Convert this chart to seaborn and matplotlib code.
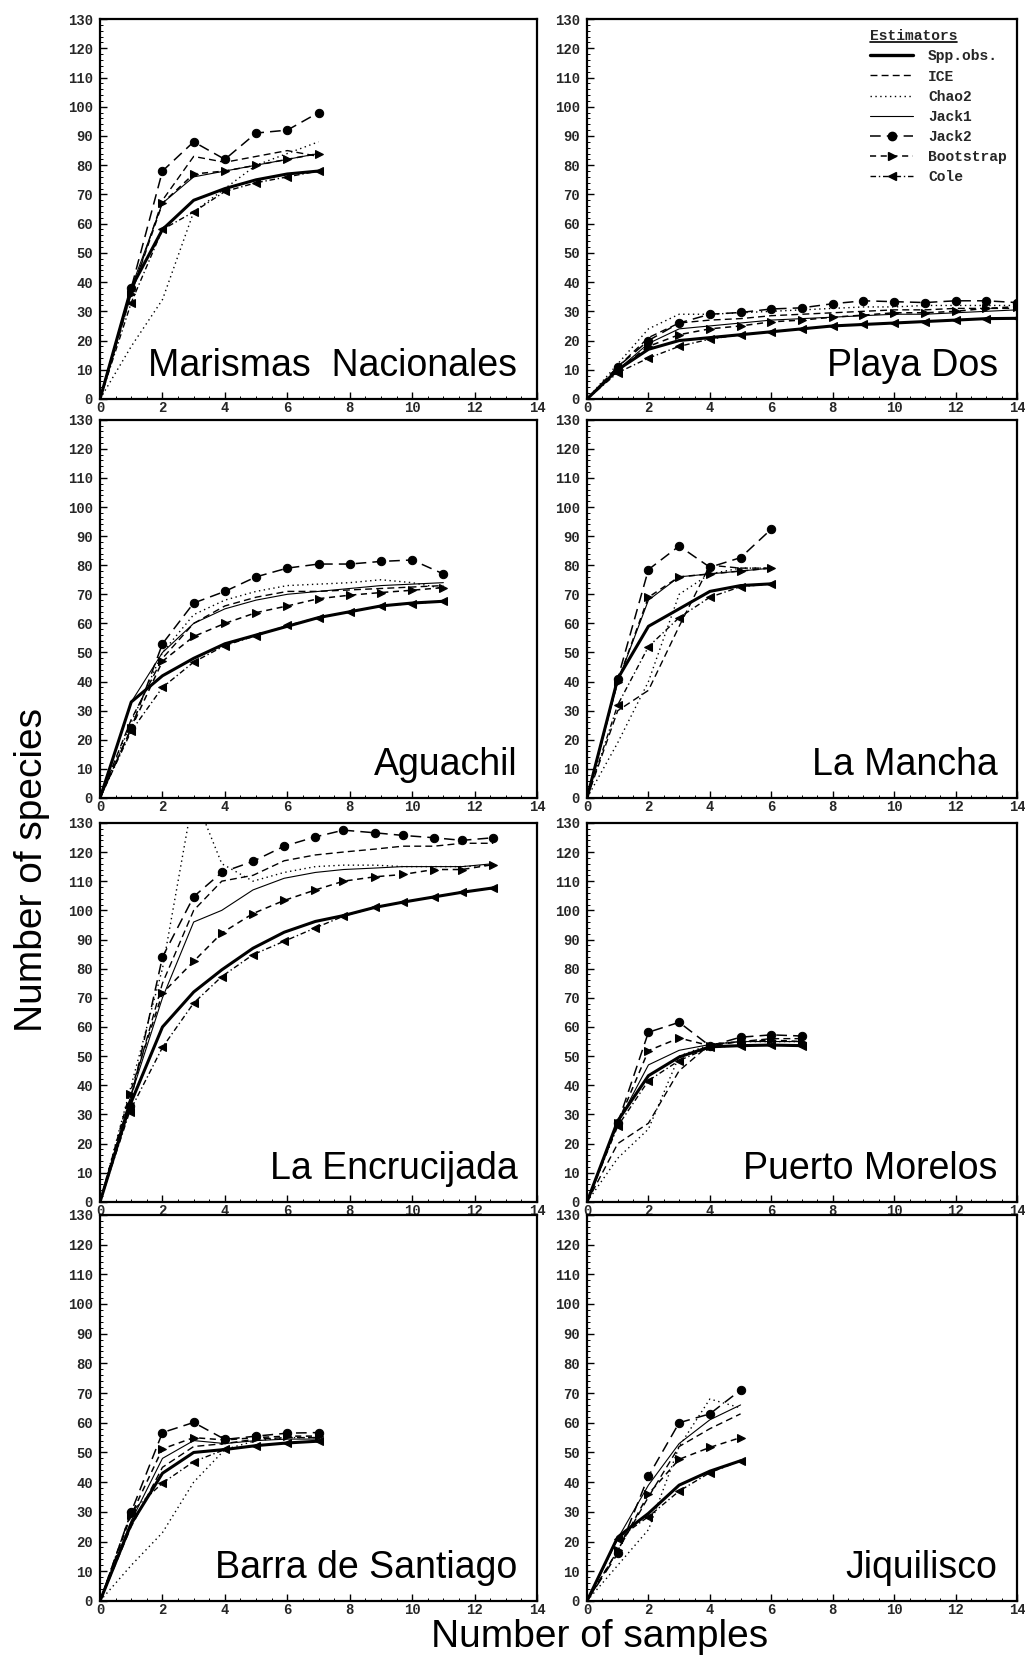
import numpy as np
import pandas as pd
import matplotlib
matplotlib.use("Agg")
import matplotlib.pyplot as plt
import matplotlib.transforms as mtransforms
import seaborn as sns
from matplotlib.ticker import MultipleLocator
from matplotlib.lines import Line2D
from matplotlib.legend_handler import HandlerLine2D

# ---------------- data ----------------
estimators = ["Spp.obs.", "ICE", "Chao2", "Jack1", "Jack2", "Bootstrap", "Cole"]
sites = ["Marismas  Nacionales", "Playa Dos", "Aguachil", "La Mancha",
         "La Encrucijada", "Puerto Morelos", "Barra de Santiago", "Jiquilisco"]

# Marismas Nacionales
mn_x = [0, 1, 2, 3, 4, 5, 6, 7]
mn_spp = [0, 38, 58, 68, 72, 75, 77, 78]
mn_ice = [0, 36, 68, 83, 81, 83, 85, 83]
mn_chao2 = [0, 18, 34, 64, 72, 80, 84, 88]
mn_jack1 = [0, 38, 67, 76, 78, 80, 82, 84]
mn_jack2 = [0, 38, 78, 88, 82, 91, 92, 98]
mn_boot = [0, 36, 67, 77, 78, 80, 82, 84]
mn_cole = [0, 33, 58, 64, 71, 74, 76, 78]

# Playa Dos
pd_x = [0, 1, 2, 3, 4, 5, 6, 7, 8, 9, 10, 11, 12, 13, 14]
pd_spp = [0, 10, 17, 20, 21, 22, 23, 24, 25, 25.5, 26, 26.5, 27, 27.5, 27.6]
pd_ice = [0, 11, 21, 26, 27, 27.5, 28.5, 29, 29.5, 30, 30.5, 30.5, 31, 31, 31]
pd_chao2 = [0, 12, 24, 29, 29, 29.5, 30, 30.5, 31, 31.5, 31.5, 32, 32, 32, 32]
pd_jack1 = [0, 10, 19, 24, 25, 26, 27, 27.5, 28, 28.5, 29, 29, 29.5, 30, 30.5]
pd_jack2 = [0, 11, 20, 26, 29, 29.6, 30.8, 31.2, 32.6, 33.6, 33.3, 33, 33.6, 33.6, 33]
pd_boot = [0, 10, 18, 22, 24, 25, 26.4, 27, 28, 28.7, 29.5, 29.5, 30, 31, 31.6]
pd_cole = [0, 9, 14, 18, 20.5, 22, 23, 24, 25, 25.5, 26, 26.5, 27, 27.5, 27.6]

# Aguachil
ag_x = [0, 1, 2, 3, 4, 5, 6, 7, 8, 9, 10, 11]
ag_spp = [0, 33, 42, 48, 53, 56, 59, 62, 64, 66, 67, 67.6]
ag_ice = [0, 27, 48, 60, 66, 69, 71, 71, 71.5, 72, 72.5, 73]
ag_chao2 = [0, 26, 50, 63, 68, 71, 73, 73.5, 74, 75, 74, 72]
ag_jack1 = [0, 33, 50, 60, 65, 68, 70, 71, 72, 73, 73.5, 74]
ag_jack2 = [0, 24, 53, 67, 71, 76, 79, 80.4, 80.4, 81.3, 81.8, 77]
ag_boot = [0, 24, 47, 55.5, 60, 63.7, 66, 68.5, 69.7, 70.6, 71.4, 72.3]
ag_cole = [0, 23, 38, 46.7, 52.4, 55.8, 59.3, 62, 64, 66, 66.8, 67.6]

# La Mancha
lm_x = [0, 1, 2, 3, 4, 5, 6]
lm_spp = [0, 41, 59, 65, 71, 73, 73.6]
lm_ice = [0, 30, 37, 59, 80, 79, 79]
lm_chao2 = [0, 19, 40, 70, 77, 79, 79]
lm_jack1 = [0, 40, 68, 76, 77, 78, 79]
lm_jack2 = [0, 41, 78.5, 86.6, 79.3, 82.6, 92.4]
lm_boot = [0, 40, 69, 76, 77, 78, 79]
lm_cole = [0, 32, 52, 62, 69, 72.6, 73.6]

# La Encrucijada
le_x = [0, 0.95, 2, 3, 3.9, 4.9, 5.9, 6.9, 7.8, 8.8, 9.7, 10.7, 11.6, 12.6]
le_spp = [0, 33, 60, 72, 79.6, 87, 92.5, 96.2, 98.2, 101, 102.8, 104.6, 106.2, 107.7]
le_ice = [0, 35, 75, 100, 110, 112, 117, 119, 120, 121, 122, 122, 123, 123]
le_chao2 = [0, 38, 80, 140, 116, 110, 113, 115, 115.5, 115.5, 115, 115, 115, 115.5]
le_jack1 = [0, 35, 70, 96, 100, 107, 111, 113, 114, 114.5, 115, 115, 115, 116]
le_jack2 = [0, 33, 84, 104.7, 113, 116.8, 122, 125.2, 127.5, 126.6, 125.7, 124.9, 124, 124.9]
le_boot = [0, 37, 71.6, 82.5, 92.2, 98.9, 103.4, 107, 110, 111.5, 112.3, 114, 114, 115.7]
le_cole = [0, 31, 53, 68.2, 77.3, 84.8, 89.4, 94, 98, 101, 102.8, 104.6, 106.2, 107.7]

# Puerto Morelos
pm_x = [0, 1, 2, 3, 4, 5, 6, 7]
pm_spp = [0, 27.8, 43.3, 49.7, 53.2, 53.6, 53.8, 53.6]
pm_ice = [0, 20, 27, 45, 54, 55, 56, 56]
pm_chao2 = [0, 15, 25, 50, 54, 55, 55, 55]
pm_jack1 = [0, 27, 47, 52, 54, 55, 55, 55]
pm_jack2 = [0, 27, 58.2, 61.6, 53.5, 56.5, 57.3, 56.9]
pm_boot = [0, 27, 51.9, 56.2, 53.6, 55, 55.5, 55]
pm_cole = [0, 26, 41.6, 48.5, 53, 53.6, 53.8, 53.6]

# Barra de Santiago
bs_x = [0, 1, 2, 3, 4, 5, 6, 7]
bs_spp = [0, 26, 43, 50, 51, 52.3, 53.2, 53.8]
bs_ice = [0, 25, 45, 52, 53, 54.5, 55, 55]
bs_chao2 = [0, 12, 23, 40, 51, 54, 55, 55]
bs_jack1 = [0, 27, 48, 54, 53, 54, 54.5, 54.5]
bs_jack2 = [0, 30, 56.7, 60.1, 54.4, 55.5, 56.5, 56.7]
bs_boot = [0, 29, 51.2, 55, 54.2, 55, 55.5, 55.5]
bs_cole = [0, 30, 39.7, 46.9, 51, 52.3, 53.2, 53.8]

# Jiquilisco
jq_x = [0, 1, 2, 3, 4, 5]
jq_spp = [0, 21.5, 29.5, 39, 43.7, 47.2]
jq_ice = [0, 17, 35, 52, 58, 63]
jq_chao2 = [0, 12, 24, 52, 68, 65]
jq_jack1 = [0, 21, 39, 53, 61, 66]
jq_jack2 = [0, 16, 42, 60, 63, 71]
jq_boot = [0, 17, 36, 47.7, 51.7, 55]
jq_cole = [0, 21, 28.4, 37, 43.2, 47.2]

x_ticks = [0, 2, 4, 6, 8, 10, 12, 14]
y_ticks = [0, 10, 20, 30, 40, 50, 60, 70, 80, 90, 100, 110, 120, 130]

site_data = {
    "Marismas  Nacionales": (mn_x, [mn_spp, mn_ice, mn_chao2, mn_jack1, mn_jack2, mn_boot, mn_cole]),
    "Playa Dos": (pd_x, [pd_spp, pd_ice, pd_chao2, pd_jack1, pd_jack2, pd_boot, pd_cole]),
    "Aguachil": (ag_x, [ag_spp, ag_ice, ag_chao2, ag_jack1, ag_jack2, ag_boot, ag_cole]),
    "La Mancha": (lm_x, [lm_spp, lm_ice, lm_chao2, lm_jack1, lm_jack2, lm_boot, lm_cole]),
    "La Encrucijada": (le_x, [le_spp, le_ice, le_chao2, le_jack1, le_jack2, le_boot, le_cole]),
    "Puerto Morelos": (pm_x, [pm_spp, pm_ice, pm_chao2, pm_jack1, pm_jack2, pm_boot, pm_cole]),
    "Barra de Santiago": (bs_x, [bs_spp, bs_ice, bs_chao2, bs_jack1, bs_jack2, bs_boot, bs_cole]),
    "Jiquilisco": (jq_x, [jq_spp, jq_ice, jq_chao2, jq_jack1, jq_jack2, jq_boot, jq_cole]),
}

# ---------------- styles ----------------
styles = {
    "Spp.obs.": dict(linestyle="-", lw=2.2, marker=None),
    "ICE": dict(linestyle=(0, (5, 3)), lw=1.0, marker=None),
    "Chao2": dict(linestyle=(0, (1, 2.5)), lw=1.0, marker=None),
    "Jack1": dict(linestyle="-", lw=0.8, marker=None),
    "Jack2": dict(linestyle=(0, (7, 4)), lw=1.1, marker="o"),
    "Bootstrap": dict(linestyle=(0, (4, 3)), lw=1.1, marker=">"),
    "Cole": dict(linestyle=(0, (4, 2, 1, 2)), lw=1.0, marker="<"),
}


class EndMarkerHandler(HandlerLine2D):
    """Legend line with its marker at the right end, as in the original key."""
    def get_xdata(self, legend, xdescent, ydescent, width, height, fontsize):
        xdata = np.array([-xdescent, -xdescent + width])
        return xdata, np.array([-xdescent + width - 2])


sns.set_theme(style="white")
plt.rcParams["font.family"] = ["Liberation Sans", "DejaVu Sans"]
plt.rcParams["xtick.direction"] = "in"
plt.rcParams["ytick.direction"] = "in"

fig = plt.figure(figsize=(10.25, 16.59), dpi=100)

col_left = [0.0976, 0.5727]
col_width = [0.4263, 0.4195]
row_bottom = [0.7595, 0.519, 0.2755, 0.035]
row_height = [0.229, 0.228, 0.2285, 0.2327]

tick_font = dict(family=["Liberation Mono", "DejaVu Sans Mono"], weight="bold", size=10)
legend_font = dict(family=["Liberation Mono", "DejaVu Sans Mono"], weight="bold", size=10.5)

legend_obj = None
for i, site in enumerate(sites):
    r, c = divmod(i, 2)
    ax = fig.add_axes([col_left[c], row_bottom[r], col_width[c], row_height[r]])
    xs, series = site_data[site]
    for est, ys in zip(estimators, series):
        st = styles[est]
        kw = dict(color="black", linestyle=st["linestyle"], lw=st["lw"], sort=False)
        if st["marker"] is not None:
            kw.update(marker=st["marker"], markersize=6, markevery=list(range(1, len(xs))),
                      markeredgecolor="black", markerfacecolor="black")
        sns.lineplot(x=xs, y=ys, ax=ax, **kw)
    ax.set_xlim(0, 14)
    ax.set_ylim(0, 130)
    ax.set_xticks(x_ticks)
    ax.set_yticks(y_ticks)
    ax.xaxis.set_minor_locator(MultipleLocator(0.5))
    ax.yaxis.set_minor_locator(MultipleLocator(2))
    ax.tick_params(which="major", length=5, width=1.0, color="black")
    ax.tick_params(which="minor", length=2.5, width=0.7, color="black")
    ax.tick_params(axis="x", which="major", pad=1.5)
    ax.tick_params(axis="y", which="major", pad=5)
    ax.tick_params(axis="both", which="both", bottom=True, left=True, top=False, right=False)
    ax.set_xticklabels([str(t) for t in x_ticks], fontdict=tick_font)
    ax.set_yticklabels([str(t) for t in y_ticks], fontdict=tick_font)
    for sp in ax.spines.values():
        sp.set_color("black")
        sp.set_linewidth(1.6)
    ax.set_xlabel("")
    ax.set_ylabel("")
    ax.text(0.955, 0.06, site, transform=ax.transAxes, ha="right", va="baseline",
            fontsize=27, color="black", family=["Liberation Sans", "DejaVu Sans"])

    if site == "Playa Dos":
        handles = []
        for est in estimators:
            st = styles[est]
            handles.append(Line2D([0], [0], color="black", linestyle=st["linestyle"],
                                  lw=st["lw"] if est != "Spp.obs." else 2.4,
                                  marker=st["marker"], markersize=6))
        legend_obj = ax.legend(handles, estimators, title="Estimators", loc="upper right",
                               frameon=False, bbox_to_anchor=(1.0, 1.0), handlelength=3.0,
                               handletextpad=1.0, labelspacing=0.42, borderaxespad=0.3,
                               numpoints=1, prop=legend_font,
                               handler_map={Line2D: EndMarkerHandler()})
        legend_obj.get_title().set_fontproperties(legend_font)
        legend_obj._legend_box.align = "left"

fig.text(0.031, 0.4756, "Number of species", rotation=90, ha="center", va="center",
         fontsize=28, color="black")
fig.text(0.585, 0.0135, "Number of samples", ha="center", va="center",
         fontsize=28, color="black")

# underline the legend title, as in the original key
fig.canvas.draw()
tb = legend_obj.get_title().get_window_extent(fig.canvas.get_renderer())
fig.add_artist(Line2D([tb.x0, tb.x1], [tb.y0 + 1, tb.y0 + 1], color="black", lw=1.2,
                      transform=mtransforms.IdentityTransform()))

fig.savefig("out.png", dpi=100, facecolor="white")
